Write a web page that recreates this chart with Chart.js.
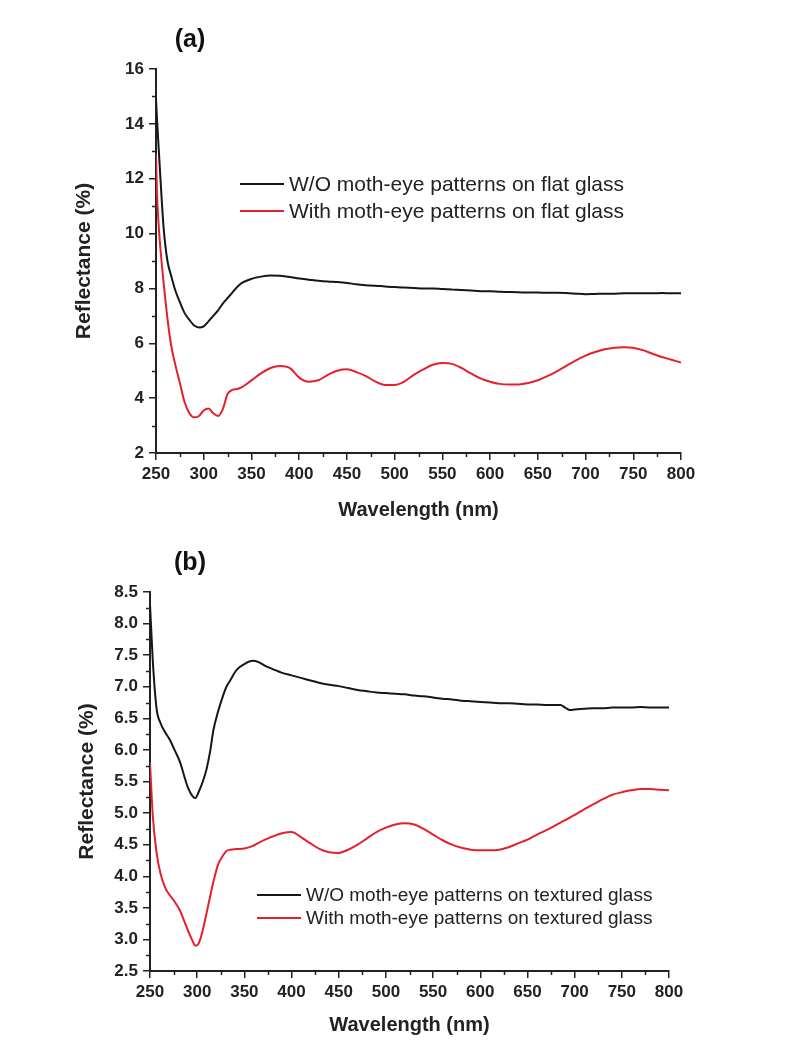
<!DOCTYPE html>
<html>
<head>
<meta charset="utf-8">
<script src="https://cdn.jsdelivr.net/npm/chart.js@4.4.1/dist/chart.umd.min.js"></script>
<style>
  html, body { margin: 0; padding: 0; background: #fff; }
  canvas { display: block; }
</style>
</head>
<body>
<canvas id="chartA" width="799" height="524"></canvas>
<canvas id="chartB" width="799" height="524"></canvas>
<script>
// panel (a) - flat glass
const wavelengthA = [250, 251, 253, 255, 258, 262, 266, 270, 275, 280, 285, 290, 295, 300, 305, 310, 315, 320, 325, 330, 335, 340, 350, 360, 370, 380, 390, 400, 410, 420, 430, 440, 450, 460, 470, 480, 490, 500, 510, 520, 530, 540, 550, 560, 570, 580, 590, 600, 610, 620, 630, 640, 650, 660, 670, 680, 690, 700, 710, 720, 730, 740, 750, 760, 770, 780, 790, 800];
const flatWithout = [14.9, 14.2, 13.0, 11.8, 10.2, 9.0, 8.45, 7.95, 7.5, 7.1, 6.85, 6.65, 6.58, 6.62, 6.8, 7.0, 7.2, 7.45, 7.65, 7.85, 8.05, 8.2, 8.35, 8.43, 8.47, 8.46, 8.42, 8.36, 8.32, 8.28, 8.25, 8.23, 8.2, 8.15, 8.12, 8.1, 8.07, 8.05, 8.03, 8.02, 8.0, 8.0, 7.98, 7.96, 7.94, 7.92, 7.9, 7.9, 7.88, 7.87, 7.86, 7.85, 7.85, 7.84, 7.84, 7.83, 7.81, 7.79, 7.8, 7.81, 7.81, 7.82, 7.82, 7.82, 7.82, 7.83, 7.82, 7.82];
const flatWith = [12.9, 11.5, 10.2, 9.3, 8.2, 6.9, 5.9, 5.25, 4.55, 3.85, 3.45, 3.3, 3.35, 3.55, 3.62, 3.45, 3.35, 3.6, 4.15, 4.3, 4.33, 4.4, 4.65, 4.9, 5.1, 5.17, 5.1, 4.75, 4.6, 4.65, 4.85, 5.0, 5.05, 4.95, 4.8, 4.6, 4.48, 4.48, 4.6, 4.85, 5.05, 5.22, 5.28, 5.25, 5.1, 4.9, 4.72, 4.6, 4.52, 4.5, 4.5, 4.55, 4.65, 4.8, 4.98, 5.18, 5.38, 5.55, 5.68, 5.78, 5.84, 5.86, 5.84, 5.75, 5.62, 5.5, 5.4, 5.3];

// panel (b) - textured glass
const wavelengthB = [250, 253, 257, 261, 266, 271, 276, 282, 286, 290, 295, 298, 302, 306, 310, 314, 317, 322, 327, 331, 335, 342, 350, 359, 365, 372, 380, 390, 400, 410, 420, 430, 440, 450, 460, 470, 480, 490, 500, 510, 520, 530, 540, 550, 560, 570, 580, 590, 600, 610, 620, 630, 640, 650, 660, 670, 680, 685, 690, 695, 700, 710, 720, 730, 740, 750, 760, 770, 780, 790, 800];
const texturedWithout = [8.3, 7.4, 6.65, 6.43, 6.28, 6.16, 6.0, 5.8, 5.6, 5.41, 5.27, 5.24, 5.35, 5.5, 5.7, 6.0, 6.3, 6.6, 6.84, 7.0, 7.1, 7.27, 7.36, 7.41, 7.39, 7.33, 7.28, 7.22, 7.18, 7.14, 7.1, 7.06, 7.03, 7.01, 6.98, 6.95, 6.93, 6.91, 6.9, 6.89, 6.88, 6.86, 6.85, 6.83, 6.81, 6.8, 6.78, 6.77, 6.76, 6.75, 6.74, 6.74, 6.73, 6.72, 6.72, 6.71, 6.71, 6.71, 6.67, 6.63, 6.64, 6.65, 6.66, 6.66, 6.67, 6.67, 6.67, 6.68, 6.67, 6.67, 6.67];
const texturedWith = [5.8, 4.95, 4.37, 4.05, 3.82, 3.7, 3.6, 3.45, 3.3, 3.15, 2.98, 2.9, 2.95, 3.15, 3.42, 3.7, 3.9, 4.18, 4.32, 4.4, 4.42, 4.43, 4.44, 4.48, 4.53, 4.58, 4.63, 4.68, 4.7, 4.62, 4.52, 4.43, 4.38, 4.37, 4.42, 4.5, 4.6, 4.7, 4.77, 4.82, 4.84, 4.82, 4.75, 4.66, 4.57, 4.5, 4.45, 4.42, 4.41, 4.41, 4.42, 4.46, 4.52, 4.58, 4.66, 4.73, 4.81, 4.85, 4.89, 4.93, 4.97, 5.06, 5.14, 5.22, 5.29, 5.33, 5.36, 5.38, 5.38, 5.37, 5.36];

const labelsA = ['W/O moth-eye patterns on flat glass', 'With moth-eye patterns on flat glass'];
const labelsB = ['W/O moth-eye patterns on textured glass', 'With moth-eye patterns on textured glass'];

const FONT = "'Liberation Sans', Arial, sans-serif";
Chart.defaults.font.family = FONT;
Chart.defaults.color = '#222';

function toPoints(xs, ys) {
  return xs.map((x, i) => ({ x: x, y: ys[i] }));
}

// minor ticks, panel letter and legend drawn on top
const extras = {
  id: 'extras',
  afterDraw(chart, args, opts) {
    const ctx = chart.ctx;
    const xs = chart.scales.x, ys = chart.scales.y;
    const area = chart.chartArea;
    ctx.save();
    ctx.strokeStyle = '#222';
    ctx.lineWidth = 1.5;
    for (let v = xs.min + opts.minorX; v < xs.max; v += opts.minorX * 2) {
      const px = Math.round(xs.getPixelForValue(v)) + 0.5;
      ctx.beginPath(); ctx.moveTo(px, area.bottom); ctx.lineTo(px, area.bottom + 4); ctx.stroke();
    }
    const n = Math.round((ys.max - ys.min) / opts.minorY);
    for (let i = 1; i < n; i++) {
      const v = ys.min + i * opts.minorY;
      if (Math.abs(v / opts.majorY - Math.round(v / opts.majorY)) < 1e-6) continue;
      const py = Math.round(ys.getPixelForValue(v)) + 0.5;
      ctx.beginPath(); ctx.moveTo(area.left, py); ctx.lineTo(area.left - 4, py); ctx.stroke();
    }
    // panel letter
    ctx.fillStyle = '#111';
    ctx.font = 'bold 25px ' + FONT;
    ctx.textAlign = 'center';
    ctx.textBaseline = 'middle';
    ctx.fillText(opts.letter, opts.letterX, opts.letterY);
    // legend
    ctx.font = opts.legendSize + 'px ' + FONT;
    ctx.textAlign = 'left';
    chart.data.datasets.forEach((ds, i) => {
      const y = opts.legendY + i * opts.legendGap;
      ctx.strokeStyle = ds.borderColor;
      ctx.lineWidth = 2;
      ctx.beginPath(); ctx.moveTo(opts.legendX, y); ctx.lineTo(opts.legendX + 44, y); ctx.stroke();
      ctx.fillStyle = '#222';
      ctx.fillText(ds.label, opts.legendX + 49, y + 1);
    });
    ctx.restore();
  }
};

function makeChart(id, xs, s1, s2, labels, setup) {
  return new Chart(document.getElementById(id), {
    type: 'line',
    data: {
      datasets: [
        { label: labels[0], data: toPoints(xs, s1), borderColor: '#161616', borderWidth: 2, pointRadius: 0, cubicInterpolationMode: 'monotone' },
        { label: labels[1], data: toPoints(xs, s2), borderColor: '#e3202c', borderWidth: 2, pointRadius: 0, cubicInterpolationMode: 'monotone' }
      ]
    },
    options: {
      responsive: false,
      animation: false,
      devicePixelRatio: 1,
      layout: { padding: { top: setup.top, right: setup.right, bottom: 0, left: 0 } },
      plugins: { legend: { display: false }, tooltip: { enabled: false }, extras: setup.extras },
      scales: {
        x: {
          type: 'linear', min: 250, max: 800,
          afterFit(scale) { scale.height = setup.xHeight; },
          ticks: { stepSize: 50, padding: 4, font: { size: 17, weight: 'bold' }, color: '#222', maxRotation: 0 },
          grid: { drawOnChartArea: false, drawTicks: true, tickLength: 7, color: '#222', lineWidth: 1.5 },
          border: { display: true, color: '#222', width: 2 },
          title: { display: true, text: 'Wavelength (nm)', font: { size: 20, weight: 'bold' }, color: '#222', padding: { top: 0, bottom: setup.xTitlePad } }
        },
        y: {
          min: setup.yMin, max: setup.yMax,
          afterFit(scale) { scale.width = setup.yWidth; },
          ticks: { stepSize: setup.yStep, padding: 5, font: { size: 17, weight: 'bold' }, color: '#222', callback: setup.yFormat },
          grid: { drawOnChartArea: false, drawTicks: true, tickLength: 7, color: '#222', lineWidth: 1.5 },
          border: { display: true, color: '#222', width: 2 },
          title: { display: true, text: 'Reflectance (%)', font: { size: 21, weight: 'bold' }, color: '#222', padding: { top: setup.yTitlePad, bottom: 0 } }
        }
      }
    },
    plugins: [extras]
  });
}

makeChart('chartA', wavelengthA, flatWithout, flatWith, labelsA, {
  top: 69, right: 118, xHeight: 71, yWidth: 156, xTitlePad: 2, yTitlePad: 72,
  yMin: 2, yMax: 16, yStep: 2, yFormat: v => v,
  extras: { minorX: 25, minorY: 1, majorY: 2, letter: '(a)', letterX: 190, letterY: 40,
            legendX: 240, legendY: 184, legendGap: 27, legendSize: 21 }
});

makeChart('chartB', wavelengthB, texturedWithout, texturedWith, labelsB, {
  top: 68, right: 130, xHeight: 77, yWidth: 150, xTitlePad: 11, yTitlePad: 75,
  yMin: 2.5, yMax: 8.5, yStep: 0.5, yFormat: v => Number(v).toFixed(1),
  extras: { minorX: 25, minorY: 0.25, majorY: 0.5, letter: '(b)', letterX: 190, letterY: 39,
            legendX: 257, legendY: 371, legendGap: 23, legendSize: 19 }
});
</script>
</body>
</html>
